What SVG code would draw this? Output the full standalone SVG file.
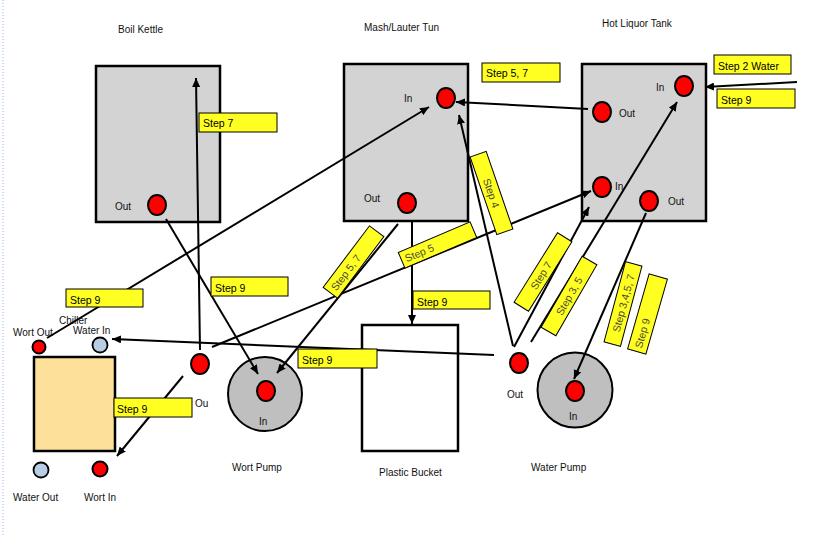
<svg xmlns="http://www.w3.org/2000/svg" width="826" height="535" viewBox="0 0 826 535">
<defs>
<marker id="ah" markerWidth="9" markerHeight="8" refX="9" refY="4" orient="auto" markerUnits="userSpaceOnUse">
<path d="M0,0 L9,4 L0,8 z" fill="#000"/>
</marker>
<style>
.t{font-family:"Liberation Sans",Arial,sans-serif;font-size:10px;fill:#111}
.lt{font-family:"Liberation Sans",Arial,sans-serif;font-size:10.5px;fill:#000}
.rt{font-family:"Liberation Sans",Arial,sans-serif;font-size:10.5px;fill:#4a4a30}
.vessel{fill:#d3d3d3;stroke:#000;stroke-width:2.5}
.port{fill:#ff0000;stroke:#000;stroke-width:2}
.wport{fill:#b9cde5;stroke:#000;stroke-width:1.8}
.pump{fill:#bfbfbf;stroke:#000;stroke-width:2}
.lab{fill:#ffff22;stroke:#000;stroke-width:1}
.c{stroke:#000;stroke-width:2;fill:none}
.ca{stroke:#000;stroke-width:2;fill:none;marker-end:url(#ah)}
</style>
</defs>
<rect width="826" height="535" fill="#fff"/>
<line x1="3" y1="0" x2="3" y2="535" stroke="#9ab4ff" stroke-width="1" stroke-dasharray="1,2"/>

<g id="boil-kettle">
<text class="t" x="118" y="33">Boil Kettle</text>
<rect class="vessel" x="96" y="66" width="124" height="156"/>
<ellipse class="port" cx="157" cy="205" rx="9" ry="10"/>
<text class="t" x="115" y="210">Out</text>
</g>

<g id="mash-lauter-tun">
<text class="t" x="364" y="31">Mash/Lauter Tun</text>
<rect class="vessel" x="344" y="64" width="124" height="157"/>
<ellipse class="port" cx="446" cy="98" rx="9" ry="10"/>
<text class="t" x="404" y="102">In</text>
<ellipse class="port" cx="407" cy="203" rx="9" ry="10"/>
<text class="t" x="364" y="202">Out</text>
</g>

<g id="hot-liquor-tank">
<text class="t" x="602" y="27">Hot Liquor Tank</text>
<rect class="vessel" x="582" y="64" width="124" height="157"/>
<ellipse class="port" cx="684" cy="86" rx="9" ry="10"/>
<text class="t" x="656" y="91">In</text>
<ellipse class="port" cx="602" cy="112" rx="9" ry="10"/>
<text class="t" x="619" y="117">Out</text>
<ellipse class="port" cx="602" cy="187" rx="9" ry="10"/>
<text class="t" x="615" y="190">In</text>
<ellipse class="port" cx="649" cy="201" rx="9" ry="10"/>
<text class="t" x="668" y="205">Out</text>
</g>

<g id="chiller">
<rect x="34" y="357" width="81" height="94" fill="#fde19a" stroke="#000" stroke-width="2.5"/>
<circle class="port" cx="39" cy="347" r="6.5" stroke-width="1.8"/>
<circle class="wport" cx="100" cy="345" r="7.5"/>
<circle class="wport" cx="41" cy="470" r="7.5"/>
<circle class="port" cx="100" cy="469" r="7.5" stroke-width="1.8"/>
<text class="t" x="59" y="324">Chiller</text>
<text class="t" x="13" y="336">Wort Out</text>
<text class="t" x="73" y="334">Water In</text>
<text class="t" x="13" y="501">Water Out</text>
<text class="t" x="84" y="501">Wort In</text>
</g>

<g id="wort-pump">
<circle class="pump" cx="265" cy="394" r="37"/>
<ellipse class="port" cx="266" cy="391" rx="9" ry="10"/>
<text class="t" x="259" y="425">In</text>
<ellipse class="port" cx="200" cy="364" rx="9" ry="10"/>
<text class="t" x="195" y="407">Ou</text>
<text class="t" x="232" y="471">Wort Pump</text>
</g>

<g id="plastic-bucket">
<rect x="362" y="325" width="96" height="126" fill="#fff" stroke="#000" stroke-width="2.5"/>
<text class="t" x="379" y="476">Plastic Bucket</text>
</g>

<g id="water-pump">
<circle class="pump" cx="575" cy="390" r="37.5"/>
<ellipse class="port" cx="575" cy="391" rx="9" ry="10"/>
<text class="t" x="569" y="420">In</text>
<ellipse class="port" cx="519" cy="363" rx="9" ry="10"/>
<text class="t" x="507" y="398">Out</text>
<text class="t" x="531" y="471">Water Pump</text>
</g>

<g id="connectors">
<line class="ca" x1="200" y1="350" x2="196" y2="78"/>
<line class="ca" x1="588" y1="109" x2="456" y2="102"/>
<line class="ca" x1="47" y1="338" x2="429" y2="107"/>
<line class="ca" x1="797" y1="82" x2="705" y2="87"/>
<line class="ca" x1="166" y1="219" x2="258" y2="374"/>
<line class="ca" x1="398" y1="224" x2="277" y2="373"/>
<line class="ca" x1="412" y1="222" x2="412" y2="324"/>
<line class="ca" x1="494" y1="355" x2="112" y2="339"/>
<line class="ca" x1="183" y1="376" x2="117" y2="456"/>
<line class="ca" x1="212" y1="347" x2="591" y2="191"/>
<line class="ca" x1="513" y1="346" x2="459" y2="115"/>
<line class="ca" x1="514" y1="347" x2="589" y2="207"/>
<line class="ca" x1="531" y1="342" x2="677" y2="102"/>
<line class="ca" x1="646" y1="213" x2="574" y2="379"/>
</g>

<g id="labels">
<rect class="lab" x="199" y="113" width="78" height="19"/><text class="lt" x="203" y="127">Step 7</text>
<rect class="lab" x="482" y="63" width="78" height="19"/><text class="lt" x="486" y="77">Step 5, 7</text>
<rect class="lab" x="714" y="55" width="77" height="19"/><text class="lt" x="718" y="70">Step 2 Water</text>
<rect class="lab" x="717" y="89" width="78" height="19"/><text class="lt" x="721" y="104">Step 9</text>
<rect class="lab" x="66" y="289" width="77" height="18"/><text class="lt" x="70" y="304">Step 9</text>
<rect class="lab" x="211" y="277" width="77" height="19"/><text class="lt" x="215" y="292">Step 9</text>
<rect class="lab" x="114" y="398" width="78" height="19"/><text class="lt" x="117" y="413">Step 9</text>
<rect class="lab" x="298" y="349" width="79" height="19"/><text class="lt" x="302" y="364">Step 9</text>
<rect class="lab" x="413" y="291" width="77" height="18"/><text class="lt" x="417" y="306">Step 9</text>

<g transform="translate(353.5,262) rotate(-53)"><rect class="lab" x="-38.5" y="-9" width="77" height="18"/><text class="rt" x="-34" y="4">Step 5, 7</text></g>
<g transform="translate(437.5,245) rotate(-23)"><rect class="lab" x="-39" y="-8.5" width="78" height="17"/><text class="rt" x="-35" y="4">Step 5</text></g>
<g transform="translate(491.5,193) rotate(71)"><rect class="lab" x="-41" y="-8.5" width="82" height="17"/><text class="rt" x="0" y="4" text-anchor="middle">Step 4</text></g>
<g transform="translate(543,272) rotate(-58)"><rect class="lab" x="-41" y="-8.5" width="82" height="17"/><text class="rt" x="-4" y="4" text-anchor="middle">Step 7</text></g>
<g transform="translate(569,296) rotate(-60)"><rect class="lab" x="-41" y="-8.5" width="82" height="17"/><text class="rt" x="0" y="4" text-anchor="middle">Step 3, 5</text></g>
<g transform="translate(623,304) rotate(-75)"><rect class="lab" x="-41.5" y="-8.5" width="83" height="17"/><text class="rt" x="1" y="4" text-anchor="middle">Step 3,4,5, 7</text></g>
<g transform="translate(647.5,314) rotate(-74)"><rect class="lab" x="-39" y="-9.5" width="78" height="19"/><text class="rt" x="-35" y="4">Step 9</text></g>
</g>
</svg>
